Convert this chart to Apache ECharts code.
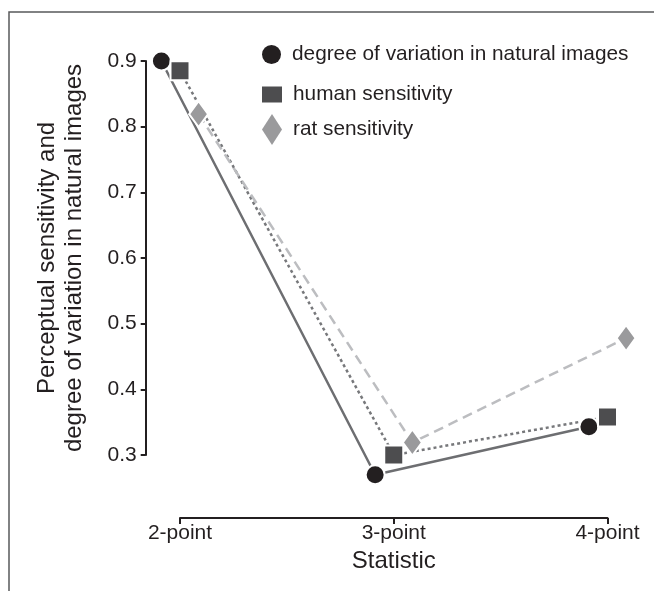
<!DOCTYPE html>
<html>
<head>
<meta charset="utf-8">
<script src="https://cdn.jsdelivr.net/npm/echarts@6/dist/echarts.min.js"></script>
<style>
html,body{margin:0;padding:0;background:#fff;}
#chart{width:654px;height:591px;}
</style>
</head>
<body>
<div id="chart"></div>
<script>
// ---- data ----
const categories = ['2-point', '3-point', '4-point'];
const seriesNames = ['degree of variation in natural images', 'human sensitivity', 'rat sensitivity'];
const naturalVariation = [0.900, 0.270, 0.343];
const humanSensitivity = [0.885, 0.300, 0.358];
const ratSensitivity = [0.819, 0.319, 0.478];
const yTickLabels = ['0.3', '0.4', '0.5', '0.6', '0.7', '0.8', '0.9'];

// ---- styling / layout ----
const FONT = '"Liberation Sans", Arial, Helvetica, sans-serif';
const INK = '#231f20';
const dodge = [-0.087, 0, 0.087];
const valuesBySeries = [naturalVariation, humanSensitivity, ratSensitivity];
const markerStyle = [
  { symbol: 'circle', size: 19, color: '#231f20' },
  { symbol: 'rect', size: 19, color: '#4d4d4f' },
  { symbol: 'diamond', size: [19, 26], color: '#9a9a9c' }
];
const lineStyles = [
  { color: '#6d6e71', width: 2.5, type: 'solid' },
  { color: '#77787b', width: 2.5, type: [3, 3] },
  { color: '#bcbdc0', width: 2.5, type: [10, 6] }
];
const legendPos = [
  { top: 44, icon: 'circle', w: 19, h: 19 },
  { top: 84, icon: 'rect', w: 20, h: 16 },
  { top: 114, icon: 'diamond', w: 20, h: 31 }
];

// visible axes grid, and a wider hidden grid (same scale) so marks beyond the axis ends are not clipped
const GRID_LEFT = 180, GRID_RIGHT = 46.5, GRID_TOP = 61, GRID_BOTTOM = 136;
const UNIT = (654 - GRID_LEFT - GRID_RIGHT) / 2;
const PAD = 0.2;

function points(i) {
  return valuesBySeries[i].map((v, k) => [k + dodge[i], v]);
}

const series = [];
for (let i = 0; i < 3; i++) {
  series.push({
    name: seriesNames[i],
    type: 'line',
    xAxisIndex: 1,
    yAxisIndex: 1,
    data: points(i),
    showSymbol: false,
    symbol: 'none',
    clip: false,
    z: 2,
    silent: true,
    lineStyle: lineStyles[i]
  });
}
for (let i = 0; i < 3; i++) {
  series.push({
    name: seriesNames[i],
    type: 'scatter',
    xAxisIndex: 1,
    yAxisIndex: 1,
    data: points(i),
    symbol: markerStyle[i].symbol,
    symbolSize: markerStyle[i].size,
    clip: false,
    z: 5,
    itemStyle: { color: markerStyle[i].color, opacity: 1, borderColor: '#ffffff', borderWidth: 2 }
  });
}

const legends = legendPos.map((p, i) => ({
  left: 262,
  top: p.top,
  padding: 0,
  itemWidth: p.w,
  itemHeight: p.h,
  selectedMode: false,
  data: [{ name: seriesNames[i], icon: p.icon, itemStyle: { color: markerStyle[i].color, borderWidth: 0 } }],
  textStyle: { fontFamily: FONT, fontSize: 20.8, color: INK, padding: [0, 0, 0, 6] }
}));

const chart = echarts.init(document.getElementById('chart'), null, { renderer: 'canvas' });
chart.setOption({
  animation: false,
  backgroundColor: '#fff',
  textStyle: { fontFamily: FONT },
  graphic: [{
    type: 'rect',
    shape: { x: 9, y: 12, width: 800, height: 800 },
    style: { fill: 'none', stroke: '#58595b', lineWidth: 1.5 },
    silent: true,
    z: 0
  }],
  legend: legends,
  grid: [
    { left: GRID_LEFT, right: GRID_RIGHT, top: GRID_TOP, bottom: GRID_BOTTOM, containLabel: false },
    { left: GRID_LEFT - PAD * UNIT, right: GRID_RIGHT - PAD * UNIT, top: GRID_TOP, bottom: GRID_BOTTOM, containLabel: false }
  ],
  xAxis: [{
    type: 'value',
    gridIndex: 0,
    min: 0,
    max: 2,
    interval: 1,
    offset: 63,
    name: 'Statistic',
    nameLocation: 'middle',
    nameGap: 30,
    nameTextStyle: { fontFamily: FONT, fontSize: 24, color: INK },
    axisLine: { show: true, onZero: false, lineStyle: { color: INK, width: 2 } },
    axisTick: { show: true, length: 6, lineStyle: { color: INK, width: 2 } },
    axisLabel: {
      fontFamily: FONT, fontSize: 21, color: INK, margin: 5,
      formatter: v => categories[Math.round(v)] || ''
    },
    splitLine: { show: false }
  }, {
    type: 'value',
    gridIndex: 1,
    min: -PAD,
    max: 2 + PAD,
    show: false
  }],
  yAxis: [{
    type: 'value',
    gridIndex: 0,
    min: 0.3,
    max: 0.9,
    interval: 0.1,
    offset: 34.3,
    name: 'Perceptual sensitivity and\ndegree of variation in natural images',
    nameLocation: 'middle',
    nameRotate: 90,
    nameGap: 58,
    nameTextStyle: { fontFamily: FONT, fontSize: 24, color: INK, lineHeight: 27, align: 'center' },
    axisLine: { show: true, onZero: false, lineStyle: { color: INK, width: 2 } },
    axisTick: { show: true, length: 5, lineStyle: { color: INK, width: 2 } },
    axisLabel: {
      fontFamily: FONT, fontSize: 21, color: INK, margin: 9,
      formatter: v => yTickLabels[Math.round((v - 0.3) * 10)] || ''
    },
    splitLine: { show: false }
  }, {
    type: 'value',
    gridIndex: 1,
    min: 0.3,
    max: 0.9,
    show: false
  }],
  series: series
});
</script>
</body>
</html>
